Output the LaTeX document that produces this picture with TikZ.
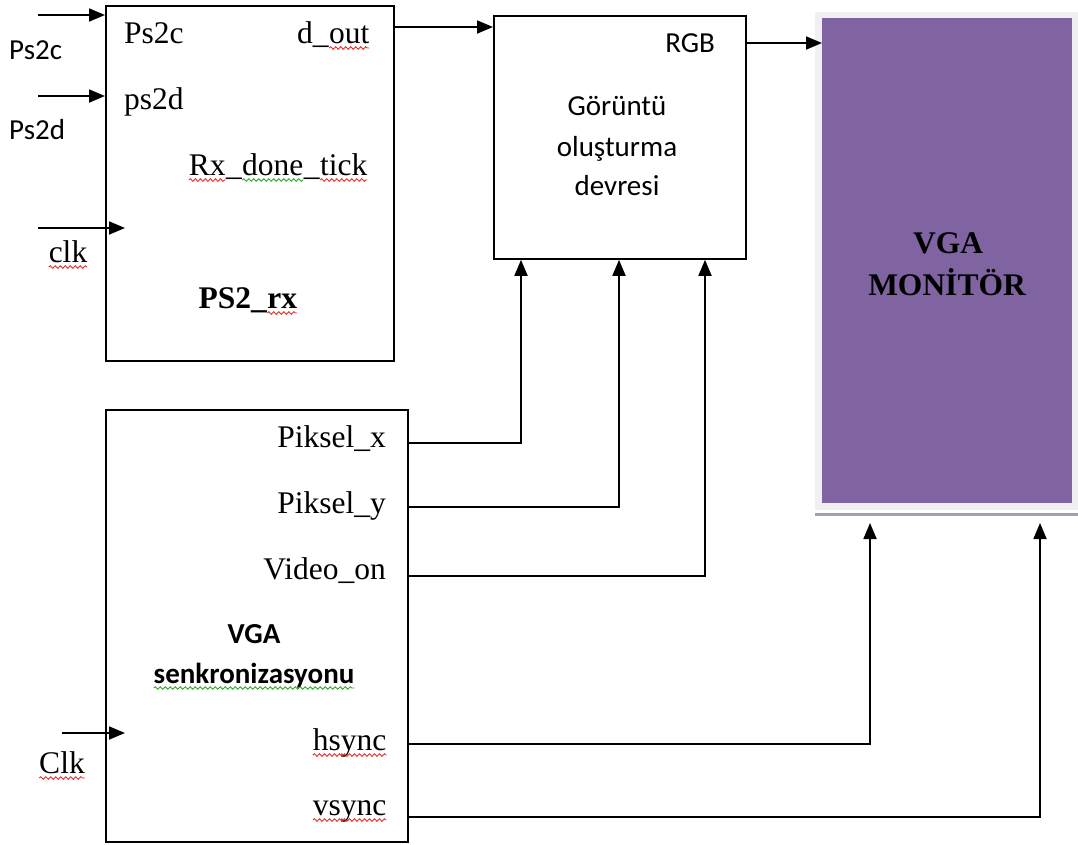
\documentclass[tikz,border=0pt]{standalone}
\usepackage{fontspec}
\setmainfont{Liberation Serif}
\newfontfamily\calfont{Carlito}
\usetikzlibrary{arrows.meta,decorations.pathmorphing}
\definecolor{monp}{HTML}{8064A2}
\definecolor{monframe}{HTML}{F0F0F2}
\definecolor{monshadow}{HTML}{A79DB7}
\definecolor{sqred}{HTML}{E8302A}
\definecolor{sqgreen}{HTML}{2EA82E}
\newcommand\sqw[2]{\tikz[baseline=(sqw.base)]{\node[inner sep=0pt,outer sep=0pt] (sqw) {#2};\draw[#1,line width=0.9pt,decorate,decoration={snake,amplitude=1.3pt,segment length=5pt}] ([yshift=-5pt]sqw.base west) -- ([yshift=-5pt]sqw.base east);}}
\begin{document}
\begin{tikzpicture}[x=1pt,y=-1pt,
 blk/.style={draw=black, line width=1.8pt, fill=white, inner sep=0pt, anchor=north west},
 wire/.style={draw=black, line width=1.8pt},
 arr/.style={wire, -{Triangle[length=16pt,width=13pt]}},
 ser/.style={font=\fontsize{31.5}{36}\selectfont, inner sep=0pt},
 serb/.style={font=\bfseries\fontsize{31.5}{36}\selectfont, inner sep=0pt},
 sans/.style={font=\calfont\fontsize{29}{34}\selectfont, inner sep=0pt},
 sansb/.style={font=\calfont\bfseries\fontsize{29}{34}\selectfont, inner sep=0pt}]
\useasboundingbox (0,0) rectangle (1078,844);
% boxes
\node[blk, minimum width=288pt, minimum height=355pt] (ps2) at (105,5) {};
\node[blk, minimum width=302pt, minimum height=432pt] (vga) at (105,409) {};
\node[blk, minimum width=252pt, minimum height=243pt] (gor) at (493,15) {};
% monitor
\fill[monframe] (815,12) rectangle (1078,510);
\draw[monshadow, line width=3pt] (815,514) -- (1078,514);
\node[fill=monp, inner sep=0pt, minimum width=250pt, minimum height=485pt, anchor=north west] (mon) at (822,18) {};
\node[serb, anchor=base] (mt1) at (948,253) {VGA};
\node[serb, anchor=base] (mt2) at (947,295) {MONİTÖR};
% PS2 labels
\node[sans, anchor=base west] (lps2c) at (9,59) {Ps2c};
\node[sans, anchor=base west] (lps2d) at (9,139) {Ps2d};
\node[ser, anchor=base] (lclk) at (68,262) {\sqw{sqred}{clk}};
\node[ser, anchor=base west] (ips2c) at (124,43) {Ps2c};
\node[ser, anchor=base west] (ips2d) at (124,109) {ps2d};
\node[ser, anchor=base east] (dout) at (370,43) {d\_\sqw{sqred}{out}};
\node[ser, anchor=base east] (rx) at (368,175) {\sqw{sqred}{Rx}\_\sqw{sqgreen}{done}\_\sqw{sqred}{tick}};
\node[serb, anchor=base] (ps2t) at (248,308) {PS2\_\sqw{sqred}{rx}};
% VGA sync labels
\node[ser, anchor=base east] (px) at (386,447) {Piksel\_x};
\node[ser, anchor=base east] (py) at (386,513) {Piksel\_y};
\node[ser, anchor=base east] (vo) at (386,579) {Video\_on};
\node[ser, anchor=base east] (hs) at (387,750) {\sqw{sqred}{hsync}};
\node[ser, anchor=base east] (vs) at (387,815) {\sqw{sqred}{vsync}};
\node[sansb, anchor=base] (vt1) at (254,643) {VGA};
\node[sansb, anchor=base] (vt2) at (254,683) {\sqw{sqgreen}{senkronizasyonu}};
\node[ser, anchor=base] (lclk2) at (62,773) {\sqw{sqred}{Clk}};
% Goruntu labels
\node[sans, anchor=base east] (rgb) at (715,52) {RGB};
\node[sans, anchor=base] (g1) at (617,115) {Görüntü};
\node[sans, anchor=base] (g2) at (617,156) {oluşturma};
\node[sans, anchor=base] (g3) at (617,195) {devresi};
% input arrows
\coordinate (a1) at (38,15);
\coordinate (a2) at (38,96);
\coordinate (a3) at (38,228);
\coordinate (a3e) at (125,228);
\coordinate (a4) at (62,733);
\coordinate (a4e) at (125,733);
\draw[arr] (a1) -- (a1 -| ps2.west);
\draw[arr] (a2) -- (a2 -| ps2.west);
\draw[arr] (a3) -- (a3e);
\draw[arr] (a4) -- (a4e);
% connections
\draw[arr] (ps2.east |- 0,27) -- (gor.west |- 0,27);
\draw[arr] (gor.east |- 0,43) -- (mon.west |- 0,43);
\draw[arr] (vga.east |- 0,443) -| ([xshift=28pt]gor.south west);
\draw[arr] (vga.east |- 0,507) -| ([xshift=126pt]gor.south west);
\draw[arr] (vga.east |- 0,576) -| ([xshift=212pt]gor.south west);
\coordinate (mh) at (870,523);
\coordinate (mv) at (1040,523);
\draw[arr] (vga.east |- 0,744) -| (mh);
\draw[arr] (vga.east |- 0,817) -| (mv);
\end{tikzpicture}
\end{document}
